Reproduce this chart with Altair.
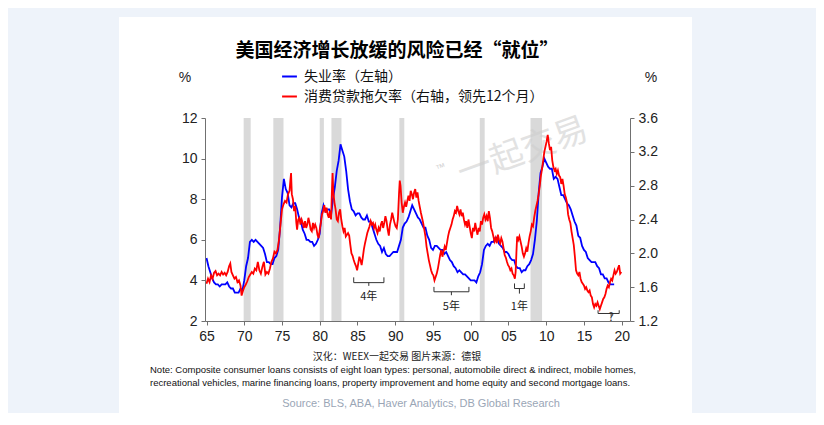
import altair as alt
import pandas as pd

TITLE = "美国经济增长放缓的风险已经“就位”"
SERIES = ["失业率（左轴）", "消费贷款拖欠率（右轴，领先12个月）"]
COLORS = ["#0000ff", "#ff0000"]
CREDIT = "汉化：WEEX一起交易   图片来源：德银"
NOTE1 = "Note: Composite consumer loans consists of eight loan types: personal, automobile direct & indirect, mobile homes,"
NOTE2 = "recreational vehicles, marine financing loans, property improvement and home equity and second mortgage loans."
SOURCE = "Source: BLS, ABA, Haver Analytics, DB Global Research"

X_TICKS = [1965, 1970, 1975, 1980, 1985, 1990, 1995, 2000, 2005, 2010, 2015, 2020]
L_TICKS = [2, 4, 6, 8, 10, 12]
R_TICKS = [1.2, 1.6, 2.0, 2.4, 2.8, 3.2, 3.6]

# unemployment rate, quarterly values per year (left axis, %)
UNEMP = {
    1965: [5.1, 4.7, 4.4, 4.1], 1966: [3.9, 3.8, 3.8, 3.7], 1967: [3.8, 3.8, 3.8, 3.9],
    1968: [3.7, 3.6, 3.6, 3.4], 1969: [3.4, 3.4, 3.6, 3.5], 1970: [4.0, 4.7, 5.1, 5.9],
    1971: [6.0, 5.9, 6.0, 5.9], 1972: [5.8, 5.7, 5.6, 5.3], 1973: [4.9, 4.9, 4.8, 4.8],
    1974: [5.1, 5.2, 5.5, 6.6], 1975: [8.1, 9.0, 8.5, 8.3], 1976: [7.7, 7.6, 7.8, 7.8],
    1977: [7.5, 7.1, 6.9, 6.5], 1978: [6.3, 6.0, 6.0, 5.9], 1979: [5.9, 5.7, 5.8, 6.0],
    1980: [6.3, 7.3, 7.7, 7.4], 1981: [7.5, 7.5, 7.2, 8.0], 1982: [8.6, 9.4, 9.9, 10.7],
    1983: [10.4, 10.1, 9.4, 8.5], 1984: [7.9, 7.5, 7.4, 7.2], 1985: [7.3, 7.3, 7.1, 7.0],
    1986: [7.0, 7.2, 6.9, 6.9], 1987: [6.6, 6.3, 6.0, 5.8], 1988: [5.7, 5.4, 5.6, 5.3],
    1989: [5.2, 5.2, 5.3, 5.4], 1990: [5.4, 5.4, 5.7, 6.0], 1991: [6.6, 6.8, 6.9, 7.1],
    1992: [7.4, 7.7, 7.5, 7.3], 1993: [7.1, 7.0, 6.8, 6.6], 1994: [6.6, 6.2, 6.0, 5.6],
    1995: [5.5, 5.7, 5.7, 5.6], 1996: [5.5, 5.5, 5.3, 5.4], 1997: [5.2, 5.0, 4.9, 4.7],
    1998: [4.6, 4.4, 4.5, 4.4], 1999: [4.3, 4.3, 4.2, 4.1], 2000: [4.0, 4.0, 4.0, 3.9],
    2001: [4.2, 4.4, 4.8, 5.5], 2002: [5.7, 5.8, 5.7, 5.9], 2003: [5.9, 6.1, 6.1, 5.8],
    2004: [5.7, 5.6, 5.4, 5.4], 2005: [5.3, 5.1, 5.0, 5.0], 2006: [4.7, 4.6, 4.6, 4.4],
    2007: [4.5, 4.5, 4.7, 4.8], 2008: [5.0, 5.3, 6.0, 6.9], 2009: [8.3, 9.3, 9.6, 10.0],
    2010: [9.8, 9.6, 9.5, 9.5], 2011: [9.0, 9.1, 9.0, 8.6], 2012: [8.2, 8.2, 8.0, 7.8],
    2013: [7.7, 7.5, 7.2, 6.9], 2014: [6.7, 6.2, 6.1, 5.7], 2015: [5.5, 5.4, 5.1, 5.0],
    2016: [4.9, 4.9, 4.9, 4.7], 2017: [4.6, 4.3, 4.3, 4.1], 2018: [4.1, 3.9, 3.8, 3.8],
    2019: [3.8],
}

# consumer loan delinquency rate, led 12 months (right axis, %)
DELINQ_T = [
    1965.0, 1965.2, 1965.4, 1965.6, 1965.8, 1966.0, 1966.2, 1966.4, 1966.6, 1966.8,
    1967.0, 1967.2, 1967.4, 1967.6, 1967.8, 1968.0, 1968.15, 1968.3, 1968.5, 1968.7,
    1968.9, 1969.1, 1969.3, 1969.5, 1969.65, 1969.8, 1970.0, 1970.2, 1970.4, 1970.6,
    1970.8, 1971.0, 1971.2, 1971.4, 1971.6, 1971.8, 1972.0, 1972.2, 1972.4, 1972.6,
    1972.8, 1973.0, 1973.2, 1973.4, 1973.6, 1973.8, 1974.0, 1974.2, 1974.4, 1974.6,
    1974.8, 1975.0, 1975.2, 1975.4, 1975.6, 1975.8, 1976.0, 1976.1, 1976.2, 1976.3,
    1976.45, 1976.6, 1976.75, 1976.9, 1977.0, 1977.15, 1977.3, 1977.45, 1977.6, 1977.75,
    1977.9, 1978.05, 1978.2, 1978.35, 1978.5, 1978.65, 1978.8, 1978.95, 1979.1, 1979.25,
    1979.4, 1979.55, 1979.7, 1979.85, 1980.0, 1980.15, 1980.3, 1980.45, 1980.6, 1980.75,
    1980.9, 1981.05, 1981.2, 1981.35, 1981.5, 1981.6, 1981.7, 1981.8, 1981.95, 1982.1,
    1982.25, 1982.4, 1982.55, 1982.7, 1982.85, 1983.0, 1983.15, 1983.3, 1983.45, 1983.6,
    1983.75, 1983.9, 1984.05, 1984.2, 1984.35, 1984.5, 1984.65, 1984.8, 1984.95, 1985.1,
    1985.25, 1985.4, 1985.55, 1985.7, 1985.85, 1986.0, 1986.15, 1986.3, 1986.45, 1986.6,
    1986.75, 1986.9, 1987.05, 1987.2, 1987.35, 1987.5, 1987.65, 1987.8, 1987.95, 1988.1,
    1988.25, 1988.4, 1988.55, 1988.7, 1988.85, 1989.0, 1989.15, 1989.3, 1989.45, 1989.6,
    1989.75, 1989.9, 1990.05, 1990.2, 1990.35, 1990.5, 1990.6, 1990.7, 1990.85, 1991.0,
    1991.15, 1991.3, 1991.45, 1991.6, 1991.75, 1991.9, 1992.05, 1992.2, 1992.35, 1992.5,
    1992.65, 1992.8, 1992.95, 1993.1, 1993.25, 1993.4, 1993.55, 1993.7, 1993.85, 1994.0,
    1994.15, 1994.3, 1994.45, 1994.6, 1994.75, 1994.9, 1995.05, 1995.2, 1995.35, 1995.5,
    1995.65, 1995.8, 1995.95, 1996.1, 1996.25, 1996.4, 1996.55, 1996.7, 1996.85, 1997.0,
    1997.15, 1997.3, 1997.45, 1997.6, 1997.75, 1997.9, 1998.05, 1998.2, 1998.35, 1998.5,
    1998.65, 1998.8, 1998.95, 1999.1, 1999.25, 1999.4, 1999.55, 1999.7, 1999.85, 2000.0,
    2000.15, 2000.3, 2000.45, 2000.6, 2000.75, 2000.9, 2001.05, 2001.2, 2001.35, 2001.5,
    2001.65, 2001.8, 2001.95, 2002.1, 2002.25, 2002.4, 2002.55, 2002.7, 2002.85, 2003.0,
    2003.15, 2003.3, 2003.45, 2003.6, 2003.75, 2003.9, 2004.05, 2004.2, 2004.35, 2004.5,
    2004.65, 2004.8, 2004.95, 2005.1, 2005.25, 2005.4, 2005.55, 2005.7, 2005.85, 2005.95,
    2006.05, 2006.15, 2006.3, 2006.45, 2006.6, 2006.75, 2006.9, 2007.05, 2007.2, 2007.35,
    2007.5, 2007.65, 2007.8, 2007.95, 2008.1, 2008.25, 2008.4, 2008.55, 2008.7, 2008.85,
    2009.0, 2009.15, 2009.3, 2009.45, 2009.6, 2009.75, 2009.9, 2010.05, 2010.2, 2010.35,
    2010.5, 2010.65, 2010.8, 2010.95, 2011.1, 2011.25, 2011.4, 2011.55, 2011.7, 2011.85,
    2012.0, 2012.15, 2012.3, 2012.45, 2012.6, 2012.75, 2012.9, 2013.05, 2013.2, 2013.35,
    2013.5, 2013.65, 2013.8, 2013.95, 2014.1, 2014.25, 2014.4, 2014.55, 2014.7, 2014.85,
    2015.0, 2015.15, 2015.3, 2015.45, 2015.6, 2015.75, 2015.9, 2016.05, 2016.2, 2016.35,
    2016.5, 2016.65, 2016.8, 2016.95, 2017.1, 2017.25, 2017.4, 2017.55, 2017.7, 2017.85,
    2018.0, 2018.15, 2018.3, 2018.45, 2018.6, 2018.75, 2018.9, 2019.05, 2019.2, 2019.35,
    2019.5, 2019.65, 2019.8, 2019.95,
]
DELINQ_V = [
    1.64, 1.70, 1.66, 1.74, 1.70, 1.77, 1.79, 1.74, 1.76, 1.74,
    1.78, 1.75, 1.77, 1.74, 1.78, 1.85, 1.88, 1.78, 1.74, 1.70,
    1.72, 1.66, 1.68, 1.62, 1.50, 1.55, 1.60, 1.63, 1.67, 1.72,
    1.75, 1.78, 1.76, 1.82, 1.80, 1.90, 1.80, 1.76, 1.84, 1.90,
    1.75, 1.78, 1.76, 1.82, 1.90, 1.94, 2.02, 2.00, 2.04, 2.16,
    2.34, 2.52, 2.58, 2.62, 2.60, 2.70, 2.74, 2.85, 2.95, 2.70,
    2.64, 2.50, 2.56, 2.36, 2.28, 2.40, 2.42, 2.34, 2.40, 2.36,
    2.30, 2.38, 2.30, 2.34, 2.42, 2.36, 2.28, 2.26, 2.36, 2.30,
    2.34, 2.30, 2.22, 2.18, 2.28, 2.36, 2.46, 2.50, 2.57, 2.48,
    2.54, 2.46, 2.42, 2.50, 2.40, 2.70, 2.95, 2.72, 2.60, 2.52,
    2.40, 2.38, 2.48, 2.52, 2.40, 2.32, 2.26, 2.30, 2.20, 2.22,
    2.24, 2.21, 2.10, 2.00, 1.97, 1.92, 1.88, 1.85, 1.80, 1.88,
    1.96, 1.92, 1.86, 1.95, 2.05, 2.12, 2.18, 2.24, 2.28, 2.32,
    2.38, 2.34, 2.36, 2.30, 2.34, 2.28, 2.24, 2.30, 2.26, 2.34,
    2.38, 2.30, 2.36, 2.44, 2.38, 2.28, 2.21, 2.34, 2.40, 2.48,
    2.42, 2.36, 2.32, 2.30, 2.40, 2.70, 2.86, 2.80, 2.60, 2.48,
    2.55, 2.60, 2.55, 2.62, 2.68, 2.62, 2.74, 2.70, 2.64, 2.72,
    2.76, 2.66, 2.72, 2.62, 2.55, 2.48, 2.42, 2.36, 2.28, 2.20,
    2.08, 2.00, 1.92, 1.86, 1.80, 1.76, 1.74, 1.68, 1.72, 1.76,
    1.82, 1.90, 1.98, 2.04, 1.96, 2.02, 2.08, 2.04, 2.12, 2.20,
    2.26, 2.30, 2.34, 2.40, 2.44, 2.50, 2.48, 2.56, 2.50, 2.46,
    2.52, 2.44, 2.48, 2.40, 2.34, 2.38, 2.30, 2.40, 2.32, 2.24,
    2.18, 2.30, 2.26, 2.36, 2.28, 2.22, 2.30, 2.26, 2.38, 2.34,
    2.42, 2.46, 2.40, 2.44, 2.38, 2.50, 2.42, 2.30, 2.26, 2.20,
    2.14, 2.18, 2.12, 2.22, 2.16, 2.12, 2.18, 2.14, 2.06, 1.98,
    1.95, 1.90, 1.86, 1.84, 1.80, 1.82, 1.76, 1.74, 1.70, 1.78,
    2.00, 2.20, 2.16, 2.20, 2.14, 2.08, 2.00, 1.96, 2.00, 2.06,
    2.02, 2.12, 2.20, 2.26, 2.34, 2.32, 2.42, 2.50, 2.56, 2.62,
    2.70, 2.80, 2.92, 3.00, 3.10, 3.20, 3.26, 3.32, 3.40, 3.30,
    3.22, 3.26, 3.10, 3.02, 2.98, 3.00, 2.94, 2.98, 2.92, 2.90,
    2.82, 2.88, 2.80, 2.70, 2.66, 2.60, 2.46, 2.40, 2.36, 2.26,
    2.18, 2.10, 1.96, 1.80, 1.76, 1.74, 1.78, 1.70, 1.66, 1.64,
    1.62, 1.58, 1.60, 1.56, 1.54, 1.56, 1.50, 1.48, 1.40, 1.36,
    1.40, 1.38, 1.42, 1.38, 1.34, 1.38, 1.42, 1.46, 1.48, 1.52,
    1.58, 1.62, 1.60, 1.66, 1.70, 1.68, 1.74, 1.80, 1.76, 1.78,
    1.82, 1.86, 1.76, 1.78,
]

# NBER recessions (decimal years)
REC_START = [1969.92, 1973.85, 1980.0, 1981.55, 1990.55, 2001.2, 2007.92]
REC_END = [1970.85, 1975.2, 1980.55, 1982.88, 1991.2, 2001.85, 2009.45]

# lead-time brackets (in left-axis units)
BR_X1 = [1984.5, 1995.13, 2005.8, 2016.87]
BR_X2 = [1988.5, 1999.76, 2007.1, 2019.67]
BR_XC = [1986.5, 1997.44, 2006.45, 2018.6]
BR_TOP = [4.15, 3.68, 3.85, 2.53]
BR_LINE = [3.89, 3.44, 3.60, 2.37]
BR_STEM = [3.73, 3.27, 3.35, 2.23]
BR_LABEL = ["4年", "5年", "1年", "?"]
BR_LABEL_Y = [3.17, 2.67, 2.70, 2.15]

CJK = "Noto Sans CJK SC"
LAT = "Liberation Sans"

# ---------- data frames ----------
rows = []
for yr, qs in UNEMP.items():
    for i, v in enumerate(qs):
        rows.append({"t": yr + i * 0.25, "v": v, "s": SERIES[0]})
blue_df = pd.DataFrame(rows)
red_df = pd.DataFrame({"t": DELINQ_T, "v": DELINQ_V, "s": SERIES[1]})
rec_df = pd.DataFrame({"a": REC_START, "b": REC_END})
br_df = pd.DataFrame({"x1": BR_X1, "x2": BR_X2, "xc": BR_XC, "ytop": BR_TOP,
                      "yline": BR_LINE, "ystem": BR_STEM, "label": BR_LABEL, "ylab": BR_LABEL_Y})

AX = dict(title=None, grid=False, labelFont=LAT, labelFontSize=14, labelColor="#222",
          domainColor="#707070", tickColor="#707070", tickSize=4, labelPadding=4, zindex=1)

xscale = alt.Scale(domain=[1964.8, 2021.1], nice=False, zero=False)
xaxis = alt.Axis(values=X_TICKS,
                 labelExpr="(datum.value % 100) < 10 ? '0' + (datum.value % 100) : '' + (datum.value % 100)",
                 **AX)
lscale = alt.Scale(domain=[2, 12], nice=False, zero=False)
laxis = alt.Axis(values=L_TICKS, orient="left", **AX)
rscale = alt.Scale(domain=[1.2, 3.6], nice=False, zero=False)
raxis = alt.Axis(values=R_TICKS, orient="right", format=".1f", **AX)

def X(f):
    return alt.X(f, scale=xscale, axis=xaxis)

def YL(f):
    return alt.Y(f, scale=lscale, axis=laxis)

color = alt.Color("s:N", scale=alt.Scale(domain=SERIES, range=COLORS),
                  legend=alt.Legend(title=None, orient="none", legendX=76, legendY=-50, direction="vertical",
                                    symbolType="stroke", symbolStrokeWidth=2, symbolSize=220,
                                    labelFont=CJK, labelFontSize=14, labelColor="#111", labelLimit=400,
                                    rowPadding=4, labelOffset=6, padding=0, offset=0, zindex=2))

def text_layer(txt, x, y, size, font=LAT, color="#111", align="center", weight="normal", angle=0, opacity=1.0):
    return alt.Chart(pd.DataFrame({"label": [txt]})).mark_text(
        font=font, fontSize=size, color=color, align=align, baseline="middle", fontWeight=weight,
        angle=angle, opacity=opacity
    ).encode(text="label:N", x=alt.value(x), y=alt.value(y))

panel = alt.Chart(pd.DataFrame({"k": [0]})).mark_rect(color="white").encode(
    x=alt.value(-86), x2=alt.value(487), y=alt.value(-101), y2=alt.value(297))

recess = alt.Chart(rec_df).mark_rect(color="#d9d9d9").encode(x=X("a:Q"), x2="b:Q")

blue = alt.Chart(blue_df).mark_line(strokeWidth=1.8).encode(x=X("t:Q"), y=YL("v:Q"), color=color)

br_h = alt.Chart(br_df).mark_rule(color="#333", strokeWidth=1).encode(x=X("x1:Q"), x2="x2:Q", y=YL("yline:Q"))
br_l = alt.Chart(br_df).mark_rule(color="#333", strokeWidth=1).encode(x=X("x1:Q"), y=YL("ytop:Q"), y2="yline:Q")
br_r = alt.Chart(br_df).mark_rule(color="#333", strokeWidth=1).encode(x=X("x2:Q"), y=YL("ytop:Q"), y2="yline:Q")
br_c = alt.Chart(br_df).mark_rule(color="#333", strokeWidth=1).encode(x=X("xc:Q"), y=YL("yline:Q"), y2="ystem:Q")
br_t = alt.Chart(br_df).mark_text(font=CJK, fontSize=11, color="#222", baseline="middle").encode(
    x=X("xc:Q"), y=YL("ylab:Q"), text="label:N")

wm1 = text_layer("一起交易", 318, 34, 34, font=CJK, color="#cfcfcf", angle=340, opacity=0.6)
wm2 = text_layer("™", 236, 50, 10, font=LAT, color="#c8c8c8", angle=340, opacity=0.8)

title = text_layer(TITLE, 192, -67, 19, font=CJK, color="#000", weight="bold")
pct_l = text_layer("%", -20, -40, 14, font=LAT, color="#222")
pct_r = text_layer("%", 446, -40, 14, font=LAT, color="#222")
credit = text_layer(CREDIT, 192, 239, 10, font=CJK, color="#222")
note1 = text_layer(NOTE1, -55, 252, 9.5, font=LAT, color="#111", align="left")
note2 = text_layer(NOTE2, -55, 265, 9.5, font=LAT, color="#111", align="left")
source = text_layer(SOURCE, 216, 286, 11, font=LAT, color="#9aa6b6")

left = alt.layer(panel, recess, wm1, wm2, blue, br_h, br_l, br_r, br_c, br_t,
                 title, pct_l, pct_r, credit, note1, note2, source)

red = alt.Chart(red_df).mark_line(strokeWidth=1.8).encode(
    x=X("t:Q"), y=alt.Y("v:Q", scale=rscale, axis=raxis), color=color)

chart = alt.layer(left, red).resolve_scale(y="independent").properties(
    width=425, height=203, background="#eef3fa",
    padding={"left": 197, "top": 110, "right": 186, "bottom": 92},
    autosize=alt.AutoSizeParams(type="none"),
).configure_view(stroke=None)

chart.save("out.html", embed_options={"renderer": "svg", "actions": False})
